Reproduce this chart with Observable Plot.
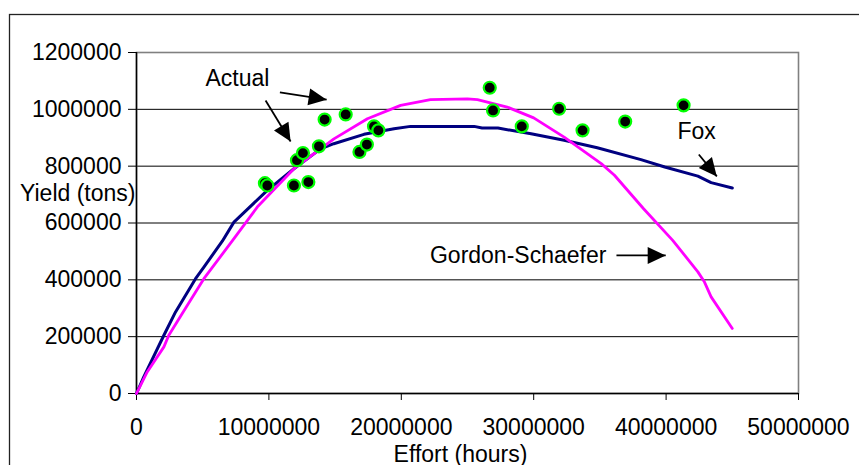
<!DOCTYPE html>
<html>
<head>
<meta charset="utf-8">
<script src="https://cdn.jsdelivr.net/npm/d3@7"></script>
<script src="https://cdn.jsdelivr.net/npm/@observablehq/plot@0.6"></script>
<style>
  html, body { margin: 0; padding: 0; background: white; }
  #chart svg { display: block; }
</style>
</head>
<body>
<div id="chart"></div>
<script>
// ---- Data ----
// Actual observations: effort (hours) and yield (tons)
const actualEffort = [9.70e6, 9.88e6, 11.89e6, 12.98e6, 12.12e6, 12.57e6, 13.78e6, 14.21e6, 15.80e6, 16.84e6,
                      17.40e6, 17.94e6, 18.27e6, 26.68e6, 26.93e6, 29.10e6, 31.92e6, 33.69e6, 36.91e6, 41.32e6];
const actualYield  = [740000, 732000, 732000, 744000, 821000, 846000, 870000, 964000, 982000, 850000,
                      876000, 940000, 926000, 1076000, 996000, 940000, 1002000, 926000, 957000, 1014000];

// Fox model curve
const foxEffort = [0, 0.55e6, 2.07e6, 2.95e6, 4.46e6, 5.09e6, 6.48e6, 7.36e6, 9.88e6, 11.89e6, 13.9e6, 14.9e6,
                   17.18e6, 19.45e6, 20.7e6, 22.2e6, 25.5e6, 26.1e6, 27.3e6, 29.8e6, 32.3e6, 34.8e6, 38.1e6,
                   39.9e6, 42.4e6, 43.4e6, 45.0e6];
const foxYield  = [0, 58600, 205000, 287000, 404000, 445000, 536000, 603000, 715000, 791000, 861000, 879000,
                   912000, 932000, 940000, 940000, 940000, 934000, 934000, 914000, 891000, 865000, 823000,
                   797000, 765000, 742000, 723000];

// Gordon-Schaefer model curve
const gsEffort = [0, 0.81e6, 2.07e6, 2.44e6, 3.83e6, 5.09e6, 7.36e6, 9.12e6, 11.89e6, 14.91e6, 17.44e6, 19.95e6,
                  22.2e6, 24.99e6, 25.75e6, 28.0e6, 30.0e6, 32.3e6, 35.1e6, 36.1e6, 38.3e6, 40.5e6, 42.4e6,
                  42.9e6, 43.4e6, 45.0e6];
const gsYield  = [0, 76000, 164000, 205000, 310000, 404000, 545000, 656000, 791000, 896000, 967000, 1014000,
                  1034000, 1037000, 1034000, 1008000, 970000, 902000, 809000, 768000, 650000, 539000, 428000,
                  392000, 340000, 229000];

// Axis ticks and labels
const xTicks = [0, 10000000, 20000000, 30000000, 40000000, 50000000];
const yTicks = [0, 200000, 400000, 600000, 800000, 1000000, 1200000];
const xLabel = "Effort (hours)";
const yLabel = "Yield (tons)";

// Annotations (data coordinates)
const annoText  = ["Actual", "Fox", "Gordon-Schaefer"];
const annoX     = [5.21e6, 40.86e6, 35.49e6];
const annoY     = [1109000, 920000, 486000];
const annoAlign = ["start", "start", "end"];
const arrowX1 = [10.83e6, 9.75e6, 42.47e6, 36.25e6];
const arrowY1 = [1060000, 1031000, 841000, 486000];
const arrowX2 = [14.36e6, 11.64e6, 43.83e6, 39.97e6];
const arrowY2 = [1034000, 887000, 764000, 486000];
const yLabelAt = 705000;

// ---- Build tables ----
const actual = actualEffort.map((e, i) => ({effort: e, yield: actualYield[i]}));
const fox = foxEffort.map((e, i) => ({effort: e, yield: foxYield[i]}));
const gs = gsEffort.map((e, i) => ({effort: e, yield: gsYield[i]}));
const annos = annoText.map((t, i) => ({t, x: annoX[i], y: annoY[i], a: annoAlign[i]}));
const arrows = arrowX1.map((x1, i) => ({x1, y1: arrowY1[i], x2: arrowX2[i], y2: arrowY2[i]}));

const FONT = "'Liberation Sans', Arial, Helvetica, sans-serif";

const chart = Plot.plot({
  width: 859,
  height: 465,
  marginLeft: 136,
  marginRight: 61,
  marginTop: 52,
  marginBottom: 72,
  style: {fontFamily: FONT, fontSize: "23px", background: "white", color: "black", overflow: "visible"},
  x: {domain: [0, 50000000]},
  y: {domain: [0, 1200000]},
  marks: [
    Plot.gridY(yTicks.filter(d => d > 0 && d < 1200000), {stroke: "black", strokeOpacity: 1, strokeWidth: 1}),
    Plot.frame({stroke: "#808080", strokeWidth: 1.6}),
    Plot.ruleX([0], {stroke: "black", strokeWidth: 1.5}),
    Plot.ruleY([0], {stroke: "black", strokeWidth: 1.5}),
    Plot.axisY({ticks: yTicks, tickFormat: d3.format("d"), tickSize: 8, tickPadding: 7, label: null, fontSize: 23}),
    Plot.axisX({ticks: xTicks, tickFormat: d3.format("d"), tickSize: 7, tickPadding: 18, label: null, fontSize: 23}),
    Plot.line(fox, {x: "effort", y: "yield", stroke: "#000080", strokeWidth: 3}),
    Plot.line(gs, {x: "effort", y: "yield", stroke: "#FF00FF", strokeWidth: 2.8}),
    Plot.dot(actual, {x: "effort", y: "yield", r: 6, fill: "black", stroke: "#00FF00", strokeWidth: 2.2}),
    Plot.link(arrows, {x1: "x1", y1: "y1", x2: "x2", y2: "y2", stroke: "black", strokeWidth: 1.8}),
    Plot.text(annos.filter(d => d.a === "start"), {x: "x", y: "y", text: "t", textAnchor: "start", lineAnchor: "middle", fontSize: 23, fill: "black"}),
    Plot.text(annos.filter(d => d.a === "end"), {x: "x", y: "y", text: "t", textAnchor: "end", lineAnchor: "middle", fontSize: 23, fill: "black"}),
    Plot.text([xLabel], {text: d => d, frameAnchor: "bottom", dy: 68, dx: -7, lineAnchor: "bottom", fontSize: 23, fill: "black"}),
    Plot.text([{t: yLabel, y: yLabelAt}], {y: "y", text: "t", frameAnchor: "left", textAnchor: "end", dx: -1, lineAnchor: "middle", fontSize: 23, fill: "black"})
  ]
});

// Filled triangular arrowheads, as in the original chart
const svg = d3.select(chart);
const defs = svg.insert("defs", ":first-child");
defs.append("marker")
  .attr("id", "tri")
  .attr("viewBox", "-19 -10 20 20")
  .attr("markerWidth", 20)
  .attr("markerHeight", 20)
  .attr("markerUnits", "userSpaceOnUse")
  .attr("refX", 0)
  .attr("refY", 0)
  .attr("orient", "auto")
  .append("path")
  .attr("d", "M-18,-8.5L0,0L-18,8.5Z")
  .attr("fill", "black");
svg.selectAll('g[aria-label="link"] path').attr("marker-end", "url(#tri)");

// Outer chart-area border (cropped on the right and bottom)
svg.append("rect")
  .attr("x", 9.5).attr("y", 14.5)
  .attr("width", 1000).attr("height", 1000)
  .attr("fill", "none").attr("stroke", "#222").attr("stroke-width", 1.3);

document.getElementById("chart").appendChild(chart);
</script>
</body>
</html>
